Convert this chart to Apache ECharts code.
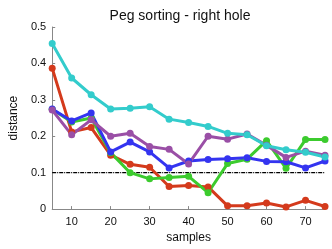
<!DOCTYPE html>
<html><head><meta charset="utf-8">
<script src="https://cdn.jsdelivr.net/npm/echarts@6/dist/echarts.min.js"></script>
<style>html,body{margin:0;padding:0;background:#fff}#c{width:332px;height:249px}</style>
</head><body><div id="c"></div>
<script>
const samples = [5,10,15,20,25,30,35,40,45,50,55,60,65,70,75];
const xTicks = [10,20,30,40,50,60,70];
const yTicks = [0,0.1,0.2,0.3,0.4,0.5];
const threshold = 0.1;
const redVals    = [0.387,0.212,0.224,0.148,0.123,0.115,0.062,0.065,0.061,0.009,0.009,0.017,0.006,0.024,0.007];
const greenVals  = [0.274,0.239,0.250,0.155,0.100,0.083,0.087,0.090,0.045,0.125,0.137,0.188,0.112,0.191,0.191];
const blueVals   = [0.275,0.242,0.264,0.157,0.184,0.157,0.113,0.132,0.136,0.138,0.141,0.131,0.130,0.113,0.132];
const purpleVals = [0.272,0.204,0.245,0.200,0.208,0.172,0.164,0.124,0.200,0.192,0.206,0.175,0.142,0.159,0.148];
const cyanVals   = [0.455,0.360,0.314,0.275,0.277,0.281,0.247,0.238,0.227,0.208,0.204,0.174,0.163,0.156,0.143];

const seriesDefs = [
  {name:'red', color:'#D43A1C', vals:redVals},
  {name:'green', color:'#3CCB2E', vals:greenVals},
  {name:'blue', color:'#3434F0', vals:blueVals},
  {name:'purple', color:'#9A4FA6', vals:purpleVals},
  {name:'cyan', color:'#33CCCC', vals:cyanVals}
];

const series = seriesDefs.map(d => ({
  type:'line', name:d.name,
  data: samples.map((x,i)=>[x,d.vals[i]]),
  symbol:'circle', symbolSize:7,
  lineStyle:{width:3, color:d.color},
  itemStyle:{color:d.color},
  animation:false
}));
series.unshift({
  type:'line', name:'thr', data:[[5,threshold],[75,threshold]],
  symbol:'none', lineStyle:{width:1.2, color:'#000', type:[4,1,1,1]}, animation:false, z:1
});

const chart = echarts.init(document.getElementById('c'), null, {renderer:'canvas'});
chart.setOption({
  animation:false,
  title:{text:'Peg sorting - right hole', left:175, textAlign:'center', top:4,
    textStyle:{fontFamily:'Liberation Sans, Arial, sans-serif', fontSize:14, fontWeight:'normal', color:'#111'}},
  grid:{left:33, right:7, top:27, bottom:35.5},
  xAxis:{type:'value', min:5, max:75,
    name:'samples', nameLocation:'middle', nameGap:15,
    nameTextStyle:{fontFamily:'Liberation Sans, Arial, sans-serif', fontSize:12, color:'#111'},
    axisLine:{lineStyle:{color:'#888'}},
    axisTick:{inside:true, length:3, customValues:xTicks, lineStyle:{color:'#888'}},
    axisLabel:{customValues:xTicks, fontFamily:'Liberation Sans, Arial, sans-serif', fontSize:11, color:'#111', margin:7},
    splitLine:{show:false}},
  yAxis:{type:'value', min:0, max:0.5, interval:0.1,
    name:'distance', nameLocation:'middle', nameGap:23, nameRotate:90,
    nameTextStyle:{fontFamily:'Liberation Sans, Arial, sans-serif', fontSize:12, color:'#111'},
    axisLine:{show:true, lineStyle:{color:'#888'}},
    axisTick:{show:true, inside:true, length:3, lineStyle:{color:'#888'}},
    axisLabel:{fontFamily:'Liberation Sans, Arial, sans-serif', fontSize:11, color:'#111', margin:6,
      formatter:v=>String(Math.round(v*10)/10)},
    splitLine:{show:false}},
  series:series
});
</script></body></html>
